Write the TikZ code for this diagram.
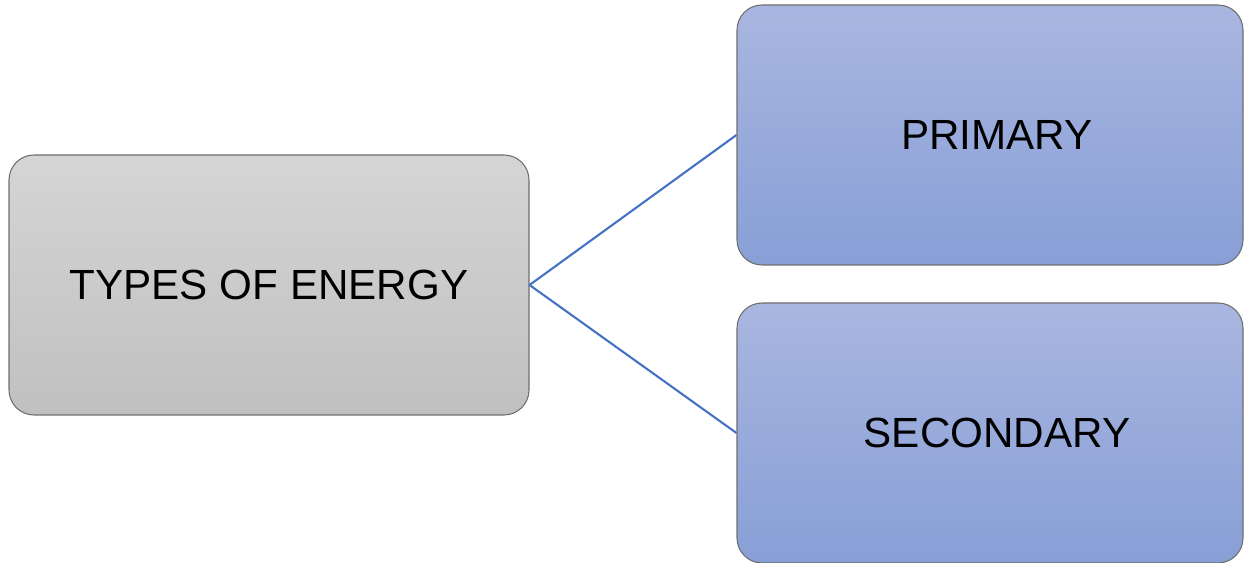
\documentclass[tikz,border=0pt]{standalone}
\usepackage{fontspec}
\setmainfont{Liberation Sans}
\usepackage{xcolor}
\usetikzlibrary{positioning}
\definecolor{boxline}{HTML}{6E6E6E}
\definecolor{linkblue}{HTML}{4472C4}
\definecolor{greytop}{HTML}{D5D5D5}
\definecolor{greybot}{HTML}{C0C0C0}
\definecolor{bluetop}{HTML}{A9B6E0}
\definecolor{bluebot}{HTML}{889FD6}

\begin{document}
\begin{tikzpicture}
        \tikzset{
          box/.style={draw=boxline, line width=0.6pt, rounded corners=0.5cm,
            minimum width=10.4cm, minimum height=5.2cm, inner sep=0pt,
            font=\fontsize{24}{28}\selectfont},
          greybox/.style={box, top color=greytop, bottom color=greybot},
          bluebox/.style={box, minimum width=10.12cm, top color=bluetop, bottom color=bluebot},
          link/.style={draw=linkblue, line width=1.2pt}
        }
        \useasboundingbox (0,0) rectangle (24.88,11.26);
        \node [greybox] (types) at (5.38,5.56) {TYPES OF ENERGY};
        \node [bluebox] (primary) at (19.8,8.56) {\hspace*{0.28cm}PRIMARY};
        \node [bluebox] (secondary) at (19.8,2.6) {\hspace*{0.28cm}SECONDARY};
        \draw [link] (types.east) -- (primary.west);
        \draw [link] (types.east) -- (secondary.west);
\end{tikzpicture}
\end{document}
